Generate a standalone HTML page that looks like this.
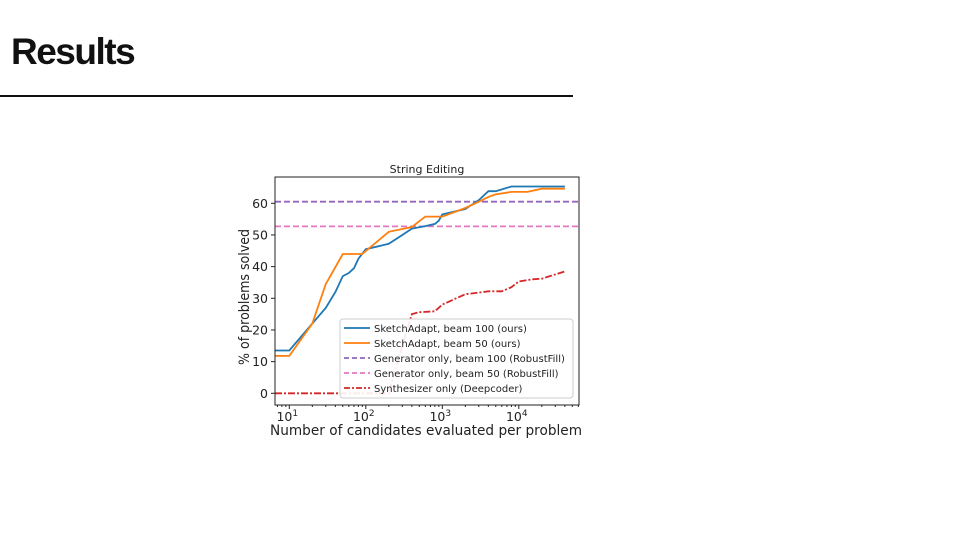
<!DOCTYPE html>
<html><head><meta charset="utf-8"><style>
body{margin:0;width:960px;height:540px;background:#fff;overflow:hidden;position:relative;font-family:"Liberation Sans",sans-serif}
#t{position:absolute;left:11px;top:31px;font-size:37px;font-weight:bold;color:#111;letter-spacing:-1.5px}
#hr{position:absolute;left:0;top:95px;width:573px;height:2px;background:#111}
svg{position:absolute;left:0;top:0}
</style></head><body>
<div id="t">Results</div><div id="hr"></div>
<svg width="960" height="540" id="s" font-family="DejaVu Sans, Liberation Sans, sans-serif"></svg>
<script>
var L=275,R=579,T=177,B=405;
function X(v){return 289.3+76.5*(Math.log10(v)-1);}
function Y(p){return 393.3-p*3.167;}
function pts(a){return a.map(function(d){return X(d[0]).toFixed(1)+","+Y(d[1]).toFixed(1)}).join(" ");}
var blue=[[6.5,13.5],[10,13.5],[20,22],[30,27],[40,32],[50,37],[60,38],[70,39.5],[80,42.5],[100,45.5],[200,47.2],[300,50],[400,52],[600,52.8],[800,53.5],[900,54.5],[1000,56.5],[2000,58.2],[3000,61],[4000,63.8],[5000,63.8],[8000,65.3],[40000,65.3]];
var orange=[[6.5,11.8],[10,11.8],[20,22],[30,34.5],[50,44],[90,44],[200,51],[400,52.5],[600,55.8],[1000,55.8],[2000,58.5],[3000,60.5],[4000,62],[5000,62.8],[8000,63.6],[13000,63.6],[20000,64.6],[40000,64.6]];
var red=[[6.5,0],[200,0],[300,15],[400,25],[500,25.6],[800,25.9],[1000,28],[2000,31.3],[3000,31.8],[4000,32.2],[6000,32.2],[8000,33.5],[10000,35.3],[15000,36],[20000,36.2],[40000,38.5]];
var h='<defs><clipPath id="c"><rect x="'+L+'" y="'+T+'" width="'+(R-L)+'" height="'+(B-T)+'"/></clipPath></defs>';
h+='<text x="427" y="173" font-size="11" text-anchor="middle" fill="#222">String Editing</text>';
h+='<g clip-path="url(#c)" fill="none" stroke-width="1.8">';
h+='<line x1="'+L+'" x2="'+R+'" y1="'+Y(60.5)+'" y2="'+Y(60.5)+'" stroke="#9467bd" stroke-dasharray="6,3"/>';
h+='<line x1="'+L+'" x2="'+R+'" y1="'+Y(52.7)+'" y2="'+Y(52.7)+'" stroke="#e377c2" stroke-dasharray="6,3"/>';
h+='<polyline points="'+pts(red)+'" stroke="#d62728" stroke-dasharray="7,2,2,2"/>';
h+='<polyline points="'+pts(blue)+'" stroke="#1f77b4"/>';
h+='<polyline points="'+pts(orange)+'" stroke="#ff7f0e"/></g>';
h+='<rect x="'+L+'" y="'+T+'" width="'+(R-L)+'" height="'+(B-T)+'" fill="none" stroke="#222" stroke-width="1"/>';
for(var p=0;p<=60;p+=10){var y=Y(p);h+='<line x1="'+(L-4)+'" x2="'+L+'" y1="'+y+'" y2="'+y+'" stroke="#222"/><text x="'+(L-7)+'" y="'+(y+4.5)+'" font-size="12.5" text-anchor="end" fill="#222">'+p+'</text>';}
for(var e=1;e<=4;e++){var x=X(Math.pow(10,e));h+='<line x1="'+x+'" x2="'+x+'" y1="'+B+'" y2="'+(B+4)+'" stroke="#222"/><text x="'+(x-2)+'" y="'+(B+16)+'" font-size="12.5" text-anchor="middle" fill="#222">10<tspan font-size="9" dy="-5">'+e+'</tspan></text>';
for(var m=2;m<=9;m++){var xm=X(m*Math.pow(10,e));if(xm<R)h+='<line x1="'+xm+'" x2="'+xm+'" y1="'+B+'" y2="'+(B+2)+'" stroke="#222"/>';}}
[7,8,9].forEach(function(v){var xm=X(v);h+='<line x1="'+xm+'" x2="'+xm+'" y1="'+B+'" y2="'+(B+2)+'" stroke="#222"/>';});
h+='<text x="426" y="435" font-size="14" text-anchor="middle" fill="#222" textLength="312" lengthAdjust="spacingAndGlyphs">Number of candidates evaluated per problem</text>';
h+='<text transform="translate(249,297) rotate(-90)" font-size="14" text-anchor="middle" fill="#222" textLength="136" lengthAdjust="spacingAndGlyphs">% of problems solved</text>';
h+='<rect x="340" y="319" width="233" height="79" rx="3" fill="#fff" fill-opacity="0.9" stroke="#ccc"/>';
var lg=[["#1f77b4","","SketchAdapt, beam 100 (ours)"],["#ff7f0e","","SketchAdapt, beam 50 (ours)"],["#9467bd","5,3","Generator only, beam 100 (RobustFill)"],["#e377c2","5,3","Generator only, beam 50 (RobustFill)"],["#d62728","6,2,2,2","Synthesizer only (Deepcoder)"]];
for(var i=0;i<5;i++){var y=328+i*15;h+='<line x1="344" x2="370" y1="'+y+'" y2="'+y+'" stroke="'+lg[i][0]+'" stroke-width="1.8" stroke-dasharray="'+lg[i][1]+'"/><text x="374" y="'+(y+4)+'" font-size="10" fill="#222">'+lg[i][2]+'</text>';}
document.getElementById('s').innerHTML=h;
</script>
</body></html>
